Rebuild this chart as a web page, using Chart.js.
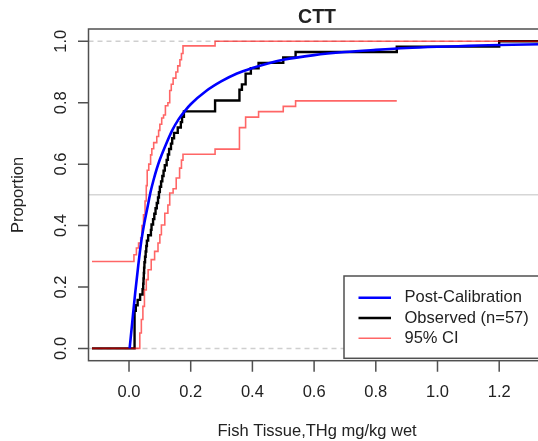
<!DOCTYPE html>
<html>
<head>
<meta charset="utf-8">
<title>CTT</title>
<script src="https://cdn.jsdelivr.net/npm/chart.js@4.4.1/dist/chart.umd.min.js"></script>
<style>
    html, body { margin: 0; padding: 0; background: #fff; }
    #wrap { width: 538px; height: 441px; overflow: hidden; }
    canvas { display: block; }
</style>
</head>
<body>
<div id="wrap"><canvas id="cdfChart" width="546" height="441"></canvas></div>
<script>
// Observed fish tissue THg (mg/kg wet), sorted, n = 57
const observedX = [
    0.018, 0.018, 0.018, 0.018, 0.018, 0.018, 0.018, 0.022, 0.028, 0.036,
    0.044, 0.046, 0.047, 0.048, 0.049, 0.050, 0.052, 0.054, 0.056, 0.058,
    0.062, 0.071, 0.073, 0.078, 0.082, 0.086, 0.090, 0.094, 0.097, 0.100,
    0.104, 0.108, 0.112, 0.116, 0.122, 0.126, 0.130, 0.136, 0.140, 0.146,
    0.158, 0.168, 0.172, 0.178, 0.279, 0.279, 0.358, 0.358, 0.366, 0.378,
    0.378, 0.395, 0.420, 0.500, 0.540, 0.868, 1.200
];
const ecdfFrom = -0.12;
const ecdfTo = 1.45;

// Post-calibration CDF
const calX = [0.002, 0.01, 0.02, 0.03, 0.04, 0.05, 0.06, 0.07, 0.08, 0.09, 0.10, 0.12, 0.14, 0.16, 0.18,
    0.20, 0.25, 0.30, 0.35, 0.40, 0.45, 0.50, 0.60, 0.70, 0.80, 0.90, 1.00, 1.10, 1.20, 1.40];
const calY = [0.0, 0.08, 0.18, 0.27, 0.35, 0.41, 0.46, 0.51, 0.55, 0.585, 0.615, 0.665, 0.71, 0.745, 0.772,
    0.795, 0.838, 0.87, 0.895, 0.913, 0.928, 0.94, 0.955, 0.965, 0.972, 0.978, 0.982, 0.985, 0.988, 0.991];

// 95% CI, upper and lower step lines
const ciUpperX = [-0.12, 0.016, 0.024, 0.031, 0.038, 0.042, 0.047, 0.052, 0.056, 0.059, 0.064, 0.070, 0.074,
    0.080, 0.090, 0.096, 0.100, 0.106, 0.112, 0.118, 0.126, 0.132, 0.137, 0.143, 0.152, 0.158, 0.165,
    0.170, 0.175, 0.279, 1.45];
const ciUpperY = [0.283, 0.305, 0.327, 0.343, 0.36, 0.40, 0.435, 0.48, 0.53, 0.58, 0.60, 0.63, 0.65,
    0.67, 0.69, 0.71, 0.73, 0.75, 0.76, 0.79, 0.80, 0.84, 0.86, 0.88, 0.90, 0.92, 0.94,
    0.96, 0.985, 1.0, 1.0];
const ciLowerX = [-0.12, 0.035, 0.040, 0.045, 0.050, 0.056, 0.062, 0.072, 0.083, 0.094, 0.100, 0.105, 0.116,
    0.126, 0.132, 0.143, 0.153, 0.164, 0.170, 0.175, 0.279, 0.358, 0.378, 0.420, 0.500, 0.540, 0.868];
const ciLowerY = [0.0, 0.05, 0.094, 0.137, 0.19, 0.224, 0.256, 0.289, 0.316, 0.343, 0.37, 0.402, 0.44,
    0.467, 0.506, 0.52, 0.555, 0.587, 0.613, 0.632, 0.649, 0.719, 0.753, 0.771, 0.788, 0.806, 0.806];

const xTicks = [0.0, 0.2, 0.4, 0.6, 0.8, 1.0, 1.2];
const yTicks = [0.0, 0.2, 0.4, 0.6, 0.8, 1.0];
const dashedRefs = [0.0, 1.0];
const solidRefs = [0.5];

const FONT = '"Liberation Sans", Arial, Helvetica, sans-serif';
const TEXT = '#222';
const AXIS = '#505050';

const n = observedX.length;
const ecdfPoints = [{ x: ecdfFrom, y: 0 }]
    .concat(observedX.map((v, i) => ({ x: v, y: (i + 1) / n })))
    .concat([{ x: ecdfTo, y: 1 }]);
const zip = (xs, ys) => xs.map((v, i) => ({ x: v, y: ys[i] }));

const legendRows = [
    { label: 'Post-Calibration', color: '#0000ff', width: 2.5 },
    { label: 'Observed (n=57)', color: '#000000', width: 2.5 },
    { label: '95% CI', color: 'rgba(255, 0, 0, 0.6)', width: 1.6 }
];

const rFrame = {
    id: 'rFrame',
    beforeDatasetsDraw(chart) {
        const { ctx, chartArea: a, scales: { y } } = chart;
        ctx.save();
        ctx.strokeStyle = '#cfcfcf';
        ctx.lineWidth = 1.5;
        ctx.setLineDash([5, 4]);
        dashedRefs.forEach(v => {
            const py = y.getPixelForValue(v);
            ctx.beginPath(); ctx.moveTo(a.left, py); ctx.lineTo(a.right, py); ctx.stroke();
        });
        ctx.setLineDash([]);
        ctx.strokeStyle = '#d6d6d6';
        solidRefs.forEach(v => {
            const py = y.getPixelForValue(v);
            ctx.beginPath(); ctx.moveTo(a.left, py); ctx.lineTo(a.right, py); ctx.stroke();
        });
        ctx.restore();
    },
    afterDatasetsDraw(chart) {
        const { ctx, chartArea: a, scales: { x, y } } = chart;
        ctx.save();

        // box and ticks
        ctx.strokeStyle = AXIS;
        ctx.lineWidth = 1.5;
        ctx.strokeRect(a.left, a.top, a.right - a.left, a.bottom - a.top);
        ctx.beginPath();
        xTicks.forEach(v => {
            const px = x.getPixelForValue(v);
            ctx.moveTo(px, a.bottom); ctx.lineTo(px, a.bottom + 11);
        });
        yTicks.forEach(v => {
            const py = y.getPixelForValue(v);
            ctx.moveTo(a.left, py); ctx.lineTo(a.left - 10.5, py);
        });
        ctx.stroke();

        // tick labels
        ctx.fillStyle = TEXT;
        ctx.font = '16.5px ' + FONT;
        ctx.textAlign = 'center';
        ctx.textBaseline = 'middle';
        xTicks.forEach(v => {
            ctx.fillText(v.toFixed(1), x.getPixelForValue(v), a.bottom + 32);
        });
        yTicks.forEach(v => {
            ctx.save();
            ctx.translate(a.left - 27.5, y.getPixelForValue(v));
            ctx.rotate(-Math.PI / 2);
            ctx.fillText(v.toFixed(1), 0, 0);
            ctx.restore();
        });

        // axis titles
        const midX = (a.left + a.right) / 2;
        const midY = (a.top + a.bottom) / 2;
        ctx.fillText('Fish Tissue,THg mg/kg wet', midX, a.bottom + 71);
        ctx.save();
        ctx.translate(a.left - 70.5, midY);
        ctx.rotate(-Math.PI / 2);
        ctx.fillText('Proportion', 0, 0);
        ctx.restore();

        // main title
        ctx.font = 'bold 19.5px ' + FONT;
        ctx.fillText('CTT', midX, a.top - 11);

        // legend, bottom right
        const lx = 344, ly = 276, lb = a.bottom - 2.4;
        ctx.fillStyle = '#fff';
        ctx.fillRect(lx, ly, a.right - lx, lb - ly);
        ctx.strokeStyle = AXIS;
        ctx.lineWidth = 1.5;
        ctx.strokeRect(lx, ly, a.right - lx, lb - ly);
        ctx.font = '16.5px ' + FONT;
        ctx.textAlign = 'left';
        legendRows.forEach((row, i) => {
            const ry = 297.7 + i * 20.3;
            ctx.strokeStyle = row.color;
            ctx.lineWidth = row.width;
            ctx.beginPath(); ctx.moveTo(358.5, ry); ctx.lineTo(391, ry); ctx.stroke();
            ctx.fillStyle = TEXT;
            ctx.fillText(row.label, 404.5, ry);
        });
        ctx.restore();
    }
};

new Chart(document.getElementById('cdfChart'), {
    type: 'line',
    data: {
        datasets: [
            {
                label: 'Post-Calibration',
                data: zip(calX, calY),
                borderColor: '#0000ff',
                borderWidth: 2.6,
                cubicInterpolationMode: 'monotone',
                pointRadius: 0
            },
            {
                label: '95% CI',
                data: zip(ciUpperX, ciUpperY),
                borderColor: 'rgba(255, 0, 0, 0.6)',
                borderWidth: 1.6,
                stepped: 'before',
                pointRadius: 0
            },
            {
                label: '95% CI',
                data: zip(ciLowerX, ciLowerY),
                borderColor: 'rgba(255, 0, 0, 0.6)',
                borderWidth: 1.6,
                stepped: 'before',
                pointRadius: 0
            },
            {
                label: 'Observed (n=57)',
                data: ecdfPoints,
                borderColor: '#000000',
                borderWidth: 2.4,
                stepped: 'before',
                pointRadius: 0
            }
        ]
    },
    options: {
        responsive: false,
        animation: false,
        devicePixelRatio: 1,
        layout: {
            padding: { left: 88.5, top: 29, right: 0.4, bottom: 80.3 }
        },
        plugins: {
            legend: { display: false },
            title: { display: false },
            tooltip: { enabled: false }
        },
        scales: {
            x: { type: 'linear', min: -0.1313, max: 1.3504, display: false },
            y: { type: 'linear', min: -0.04, max: 1.04, display: false }
        }
    },
    plugins: [rFrame]
});
</script>
</body>
</html>
